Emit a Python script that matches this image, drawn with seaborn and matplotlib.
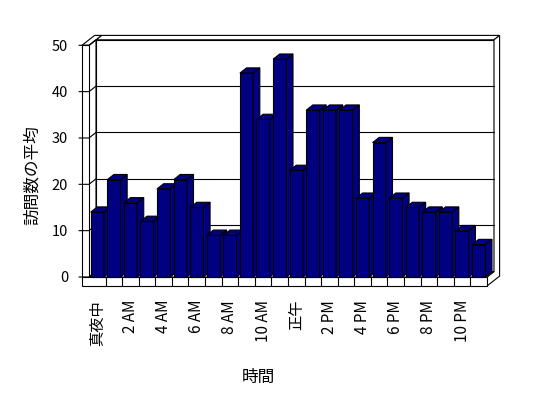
import matplotlib
matplotlib.use("Agg")
import matplotlib.pyplot as plt
import seaborn as sns
import pandas as pd
from matplotlib.patches import Polygon
from matplotlib.lines import Line2D
from matplotlib.transforms import IdentityTransform

# ---- data ----
hours = list(range(24))
visits = [14, 21, 16, 12, 19, 21, 15, 9, 9, 44, 34, 47,
          23, 36, 36, 36, 17, 29, 17, 15, 14, 14, 10, 7]
tick_positions = [0, 2, 4, 6, 8, 10, 12, 14, 16, 18, 20, 22]
tick_labels = ["真夜中", "2 AM", "4 AM", "6 AM", "8 AM", "10 AM",
               "正午", "2 PM", "4 PM", "6 PM", "8 PM", "10 PM"]
y_ticks = [0, 10, 20, 30, 40, 50]
x_title = "時間"
y_title = "訪問数の平均"

sns.set_theme(style="white")
plt.rcParams['font.family'] = ['Noto Sans CJK JP', 'DejaVu Sans']

W, H = 548, 398
fig = plt.figure(figsize=(W / 100, H / 100), dpi=100)
fig.patch.set_facecolor("white")
ax = fig.add_axes([89 / W, 121 / H, 398 / W, 231.7 / H])
ax.patch.set_alpha(0)

df = pd.DataFrame({"hour": hours, "visits": visits})
sns.barplot(data=df, x="hour", y="visits", order=hours, color="#000080",
            saturation=1, width=0.8, edgecolor="black", linewidth=0.8,
            errorbar=None, ax=ax)
ax.set_xlim(-0.5, len(hours) - 0.5)
ax.set_ylim(0, 50)
ax.set_xlabel("")
ax.set_ylabel("")
ax.grid(False)
for s in ax.spines.values():
    s.set_visible(False)

bars = list(ax.patches)

DX, DY = 7.0, 5.5      # depth vector (pixels) for full plot depth
T = 7.0                # side wall thickness (px)
F = 9.0                # floor thickness (px)
ZB = 1.8               # back of back wall
x0, x1 = ax.get_xlim()
ytop = 50

def P(x, y, z=0.0, ox=0.0, oy=0.0):
    px, py = ax.transData.transform((x, y))
    return (px + z * DX + ox, py + z * DY + oy)

def poly(pts, z, fc="white", lw=0.8):
    p = Polygon(pts, closed=True, facecolor=fc, edgecolor="black",
                linewidth=lw, transform=IdentityTransform(), zorder=z,
                clip_on=False)
    ax.add_artist(p)

def line(pts, z, lw=0.8):
    xs = [p[0] for p in pts]
    ys = [p[1] for p in pts]
    ln = Line2D(xs, ys, color="black", linewidth=lw,
                transform=IdentityTransform(), zorder=z, clip_on=False)
    ax.add_artist(ln)

# back wall
poly([P(x0, 0, 1), P(x1, 0, 1), P(x1, ytop, 1), P(x0, ytop, 1)], 1)
poly([P(x0, ytop, 1), P(x1, ytop, 1), P(x1, ytop, ZB), P(x0, ytop, ZB)], 1.1)
# right side of back wall + floor
poly([P(x1, ytop, 1), P(x1, ytop, ZB), P(x1, 0, ZB, oy=-F),
      P(x1, 0, 0, oy=-F), P(x1, 0, 0), P(x1, 0, 1)], 1.2)
# back wall gridlines
for yv in y_ticks[1:-1]:
    line([P(x0, yv, 1), P(x1, yv, 1)], 2)

# left wall inner face, top, front
poly([P(x0, 0, 0), P(x0, ytop, 0), P(x0, ytop, 1), P(x0, 0, 1)], 3)
poly([P(x0, ytop, 0, ox=-T), P(x0, ytop, 0), P(x0, ytop, ZB),
      P(x0, ytop, ZB, ox=-T)], 3.1)
poly([P(x0, 0, 0, ox=-T), P(x0, 0, 0), P(x0, ytop, 0),
      P(x0, ytop, 0, ox=-T)], 3.2)
# floor top and front
poly([P(x0, 0, 0), P(x1, 0, 0), P(x1, 0, 1), P(x0, 0, 1)], 3)
poly([P(x0, 0, 0, ox=-T, oy=-F), P(x1, 0, 0, oy=-F), P(x1, 0, 0),
      P(x0, 0, 0, ox=-T)], 3.3)
for k in range(1, len(hours)):
    line([P(k - 0.5, 0, 0, oy=-F), P(k - 0.5, 0, 0)], 3.4)
# ticks and grid on left wall
for yv in y_ticks:
    line([P(x0, yv, 0, ox=-T - 3), P(x0, yv, 0), P(x0, yv, 1)], 3.5)

# 3D bars
BD = 0.95
for k, b in enumerate(bars):
    bx, bw, bh = b.get_x(), b.get_width(), b.get_height()
    b.set_zorder(10 + k)
    b.set_clip_on(False)
    poly([P(bx + bw, 0, 0), P(bx + bw, bh, 0), P(bx + bw, bh, BD),
          P(bx + bw, 0, BD)], 10.5 + k, fc="#000080")
    poly([P(bx, bh, 0), P(bx + bw, bh, 0), P(bx + bw, bh, BD),
          P(bx, bh, BD)], 10.5 + k, fc="#000080")

# axes ticks
ax.set_yticks(y_ticks)
ax.set_yticklabels([str(v) for v in y_ticks], fontsize=10.5, color="black")
ax.tick_params(axis="y", length=0, pad=15)
ax.set_xticks(tick_positions)
ax.set_xticklabels(tick_labels, fontsize=11, color="black")
ax.tick_params(axis="x", length=0, pad=16.5)
for lbl in ax.get_xticklabels():
    lbl.set_rotation(90)
    lbl.set_rotation_mode("default")
    lbl.set_horizontalalignment("center")
    lbl.set_verticalalignment("top")

fig.text(32 / W, 1 - 175 / H, y_title, rotation=90, ha="center",
         va="center", fontsize=12, color="black")
fig.text(258 / W, 1 - 377 / H, x_title, ha="center", va="center",
         fontsize=12, color="black")

fig.savefig("out.png", dpi=100, facecolor="white")
